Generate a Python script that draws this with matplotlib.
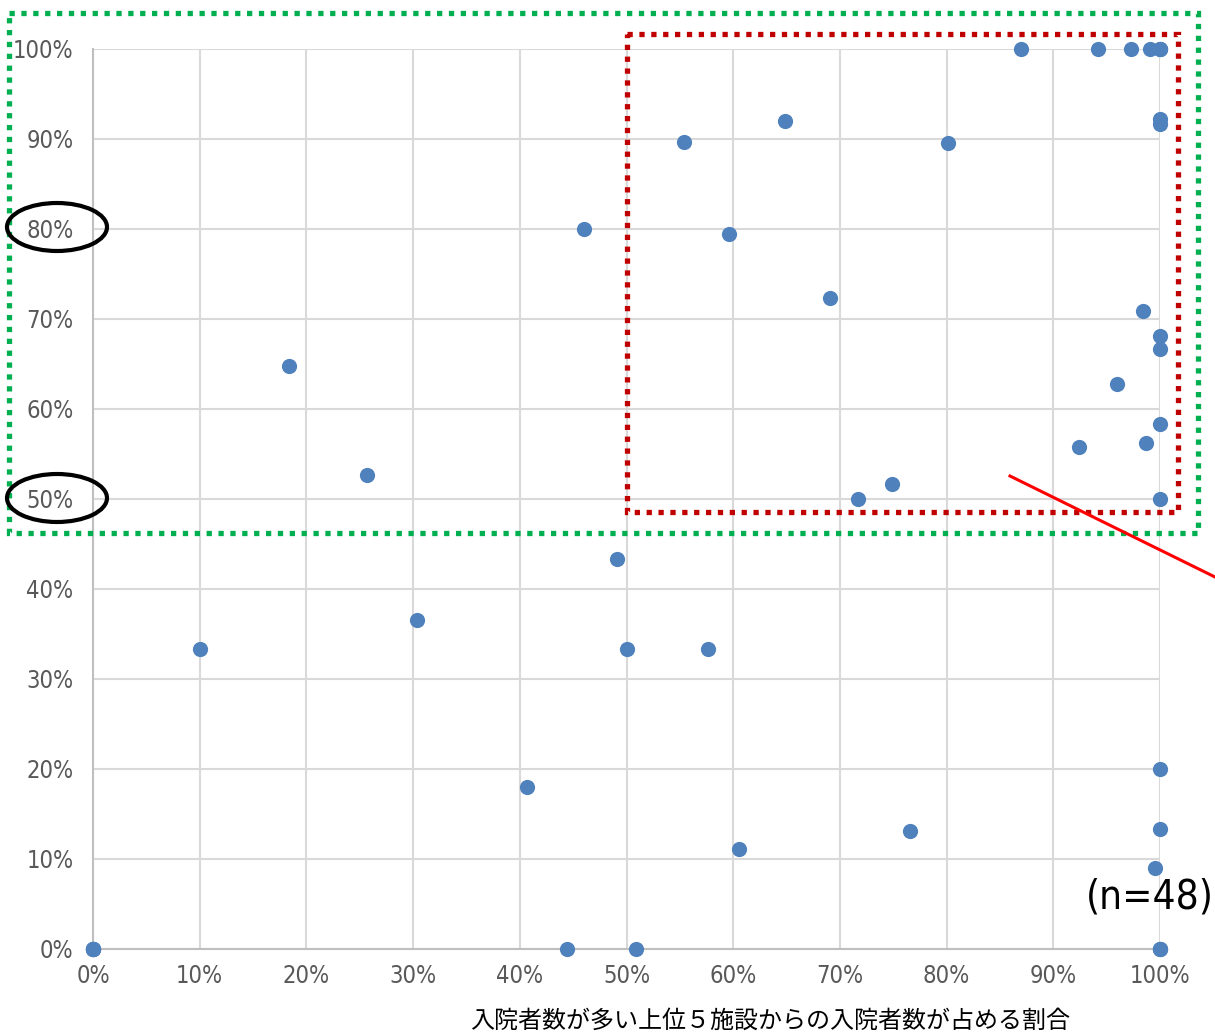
import matplotlib
matplotlib.use("Agg")
import matplotlib.pyplot as plt
from matplotlib.patches import Rectangle, Ellipse
from matplotlib.ticker import PercentFormatter

# share of admissions coming from the top-5 facilities (x) vs. y-rate, in %
x_share = [0, 0, 0, 0, 0, 10.0, 18.4, 25.7, 30.4, 40.7, 44.4, 46.0, 49.1, 50.0,
           50.9, 55.4, 57.6, 59.6, 60.5, 64.9, 69.1, 71.7, 74.9, 76.6, 80.1,
           87.0, 92.4, 94.2, 96.0, 97.3, 98.4, 98.7, 99.1,
           100, 100, 100, 100, 100, 100, 100, 100, 100, 100, 100,
           99.5, 100, 100, 100]
y_rate = [0, 0, 0, 0, 0, 33.3, 64.8, 52.7, 36.6, 18.0, 0, 80.0, 43.3, 33.3,
          0, 89.7, 33.3, 79.4, 11.1, 92.0, 72.3, 50.0, 51.7, 13.1, 89.6,
          100, 55.8, 100, 62.8, 100, 70.9, 56.2, 100,
          100, 100, 100, 92.2, 91.7, 68.1, 66.7, 58.3, 50.0, 20.0, 13.3,
          9.0, 0, 0, 0]
ticks = list(range(0, 101, 10))

xlabel = "入院者数が多い上位５施設からの入院者数が占める割合"
n_note = "(n=48)"

W, H = 1215, 1032
fig = plt.figure(figsize=(W / 100, H / 100), dpi=100)
ax = fig.add_axes([93 / W, 1 - 949 / H, (1160 - 93) / W, (949 - 49) / H])

ax.scatter(x_share, y_rate, s=120, color="#4f81bd", zorder=3, clip_on=False,
           linewidths=0)

ax.set_xlim(0, 100)
ax.set_ylim(0, 100)
ax.set_xticks(ticks)
ax.set_yticks(ticks)
ax.xaxis.set_major_formatter(PercentFormatter(decimals=0))
ax.yaxis.set_major_formatter(PercentFormatter(decimals=0))
ax.grid(True, color="#d9d9d9", linewidth=1.5)
ax.set_axisbelow(True)
for side in ["top", "right"]:
    ax.spines[side].set_visible(False)
for side in ["left", "bottom"]:
    ax.spines[side].set_color("#bfbfbf")
    ax.spines[side].set_linewidth(1.5)
ax.tick_params(length=0, labelcolor="#595959", labelsize=17)
ax.tick_params(axis="x", pad=11)
ax.tick_params(axis="y", pad=14)
for lab in ax.get_xticklabels() + ax.get_yticklabels():
    lab.set_fontstretch("condensed")

fig.text(770 / W, 1 - 1021 / H, xlabel, ha="center", va="center",
         fontsize=17.3, family=["Noto Sans CJK JP", "DejaVu Sans"])
fig.text(1214 / W, 1 - 898 / H, n_note, ha="right", va="center",
         fontsize=29, fontstretch="condensed", color="black")

# annotation overlay drawn in pixel space
ov = fig.add_axes([0, 0, 1, 1], zorder=10)
ov.set_xlim(0, W)
ov.set_ylim(H, 0)
ov.axis("off")
ov.patch.set_alpha(0)
dots = (0, (1, 1.25))
ov.add_patch(Rectangle((9, 13), 1198 - 9, 533 - 13, fill=False,
                       edgecolor="#00b050", linewidth=3.8, linestyle=dots))
ov.add_patch(Rectangle((627, 34), 1178 - 627, 512 - 34, fill=False,
                       edgecolor="#c00000", linewidth=3.8, linestyle=dots))
for cy in (227, 498):
    ov.add_patch(Ellipse((57, cy), 100, 48, fill=False, edgecolor="black",
                         linewidth=3))
ov.plot([1010, 1215], [476, 577], color="#ff0000", linewidth=2.2)

fig.savefig("out.png", dpi=100)
